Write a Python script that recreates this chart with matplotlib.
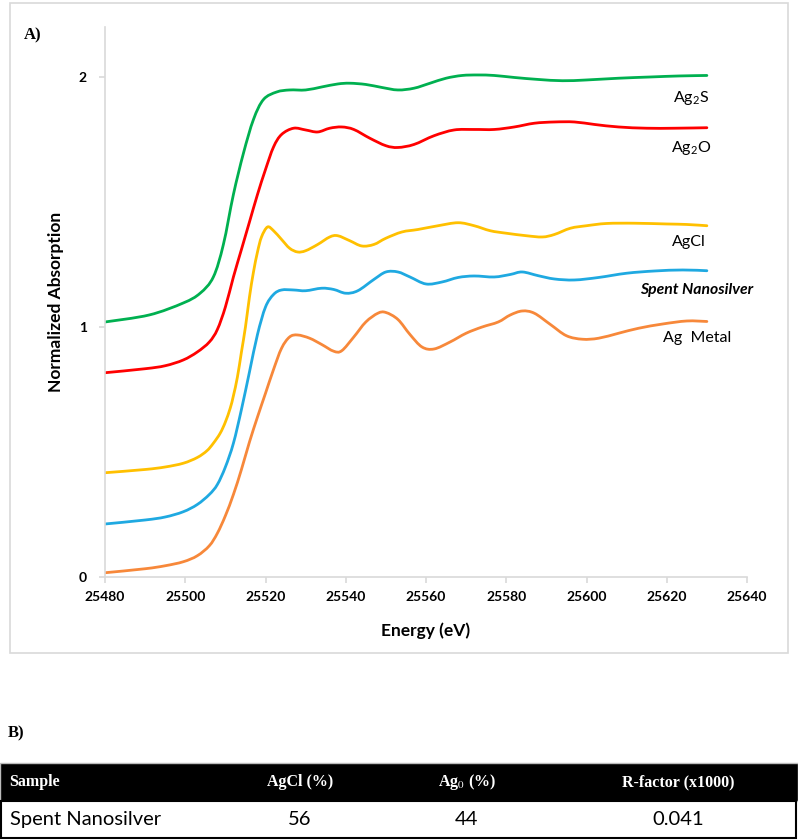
import matplotlib
matplotlib.use("Agg")
import matplotlib.pyplot as plt
from matplotlib.patches import Rectangle, PathPatch
from matplotlib.path import Path

plt.rcParams['font.family'] = ['Lato', 'DejaVu Sans']
plt.rcParams['mathtext.fontset'] = 'custom'
plt.rcParams['mathtext.rm'] = 'Lato'
plt.rcParams['mathtext.it'] = 'Lato:italic'
plt.rcParams['mathtext.bf'] = 'Lato:bold'

# XANES spectra
ag2s_e = [25480, 25491, 25499.5, 25503.7, 25507, 25509.5, 25512, 25514.5, 25517, 25519.5, 25522.8,
          25526, 25530, 25534, 25538, 25541, 25545, 25549, 25553, 25557, 25561, 25565, 25569, 25573,
          25577, 25582, 25588, 25594, 25600, 25608, 25616, 25623, 25630]
ag2s_v = [1.02, 1.048, 1.096, 1.135, 1.20, 1.33, 1.53, 1.695, 1.83, 1.91, 1.94,
          1.948, 1.948, 1.96, 1.972, 1.975, 1.97, 1.958, 1.948, 1.955, 1.975, 1.995, 2.006, 2.008,
          2.006, 1.998, 1.99, 1.985, 1.988, 1.995, 2.0, 2.004, 2.006]

ag2o_e = [25480, 25490, 25495, 25499.5, 25503, 25506, 25508, 25510, 25512, 25514, 25516, 25518, 25520,
          25522, 25524, 25527, 25530, 25533, 25536, 25539, 25542, 25546, 25550, 25553, 25557, 25562,
          25567, 25572, 25577, 25582, 25587, 25592, 25597, 25602, 25608, 25615, 25622, 25630]
ag2o_v = [0.817, 0.833, 0.845, 0.868, 0.9, 0.94, 0.99, 1.08, 1.2, 1.31, 1.42, 1.53, 1.63,
          1.72, 1.77, 1.795, 1.788, 1.78, 1.795, 1.80, 1.79, 1.755, 1.725, 1.718, 1.73, 1.765,
          1.788, 1.79, 1.79, 1.80, 1.815, 1.82, 1.82, 1.81, 1.80, 1.795, 1.795, 1.797]

agcl_e = [25480, 25490, 25495, 25499.5, 25503, 25505.4, 25507, 25508.7, 25510, 25511.2, 25512, 25513,
          25514, 25515, 25516, 25517, 25518, 25519, 25520.5, 25522, 25524, 25526, 25528, 25530, 25533,
          25536, 25538, 25541, 25544, 25547, 25550, 25554, 25558, 25563, 25568, 25572, 25576, 25580,
          25585, 25589, 25592, 25596, 25600, 25605, 25612, 25620, 25625, 25630]
agcl_v = [0.417, 0.43, 0.44, 0.455, 0.478, 0.505, 0.535, 0.575, 0.62, 0.675, 0.725, 0.80,
          0.90, 1.0, 1.12, 1.22, 1.30, 1.36, 1.40, 1.385, 1.35, 1.315, 1.30, 1.305, 1.33,
          1.36, 1.365, 1.345, 1.324, 1.33, 1.355, 1.38, 1.39, 1.405, 1.417, 1.405, 1.385, 1.375,
          1.365, 1.36, 1.37, 1.395, 1.405, 1.414, 1.415, 1.412, 1.41, 1.405]

spent_e = [25480, 25490, 25495, 25499.5, 25503, 25506, 25508, 25510, 25512, 25514, 25516, 25518,
           25520, 25522, 25524, 25527, 25530, 25534, 25537, 25540, 25543, 25547, 25550, 25553,
           25556, 25560, 25564, 25568, 25572, 25577, 25581, 25584, 25588, 25592, 25597, 25603,
           25610, 25617, 25624, 25630]
spent_v = [0.212, 0.228, 0.24, 0.261, 0.29, 0.33, 0.37, 0.44, 0.535, 0.67, 0.82, 0.97,
           1.08, 1.13, 1.148, 1.148, 1.145, 1.155, 1.15, 1.135, 1.145, 1.19, 1.22, 1.22,
           1.2, 1.172, 1.18, 1.198, 1.204, 1.20, 1.21, 1.22, 1.205, 1.192, 1.188, 1.198,
           1.215, 1.224, 1.228, 1.225]

agm_e = [25480, 25490, 25495, 25499.5, 25503, 25506, 25508, 25510, 25512, 25514, 25516, 25518,
         25520, 25522, 25524, 25526, 25528, 25531, 25534, 25537, 25539, 25542, 25545, 25548, 25550,
         25553, 25556, 25559, 25562, 25566, 25570, 25574, 25578, 25581, 25584, 25587, 25591, 25595,
         25599, 25603, 25608, 25613, 25619, 25625, 25630]
agm_v = [0.017, 0.033, 0.045, 0.061, 0.085, 0.125, 0.175, 0.245, 0.33, 0.43, 0.54, 0.64,
         0.735, 0.83, 0.915, 0.96, 0.968, 0.955, 0.93, 0.903, 0.905, 0.96, 1.02, 1.055, 1.058,
         1.03, 0.97, 0.92, 0.912, 0.94, 0.975, 1.0, 1.02, 1.048, 1.064, 1.055, 1.01, 0.965,
         0.951, 0.955, 0.975, 0.995, 1.012, 1.024, 1.022]

x_ticks = [25480, 25500, 25520, 25540, 25560, 25580, 25600, 25620, 25640]
y_ticks = [0, 1, 2]

# fit table
table_cols = ["Sample", "AgCl (%)", "Ag$_0$ (%)", "R-factor (x1000)"]
table_row = ["Spent Nanosilver", "56", "44", "0.041"]


def smooth_line(ax, xs, ys, color, lw=2.0):
    # excel-style smoothed line: catmull-rom segments drawn as cubic beziers
    n = len(xs)
    verts = [(xs[0], ys[0])]
    codes = [Path.MOVETO]
    for i in range(n - 1):
        i0 = max(i - 1, 0)
        i3 = min(i + 2, n - 1)
        c1 = (xs[i] + (xs[i + 1] - xs[i0]) / 6.0, ys[i] + (ys[i + 1] - ys[i0]) / 6.0)
        c2 = (xs[i + 1] - (xs[i3] - xs[i]) / 6.0, ys[i + 1] - (ys[i3] - ys[i]) / 6.0)
        verts += [c1, c2, (xs[i + 1], ys[i + 1])]
        codes += [Path.CURVE4, Path.CURVE4, Path.CURVE4]
    ax.add_patch(PathPatch(Path(verts, codes), facecolor='none', edgecolor=color, lw=lw,
                           joinstyle='round', capstyle='round'))


fig = plt.figure(figsize=(7.98, 8.4), dpi=100)

# panel A frame
fig.patches.append(Rectangle((0.0125, 0.2226), 0.975, 0.774, transform=fig.transFigure,
                             fill=False, edgecolor='#d9d9d9', linewidth=1.2))

ax = fig.add_axes([0.1316, 0.3131, 0.8045, 0.6548])
smooth_line(ax, ag2s_e, ag2s_v, '#00B050')
smooth_line(ax, ag2o_e, ag2o_v, '#FF0000')
smooth_line(ax, agcl_e, agcl_v, '#FFC000')
smooth_line(ax, spent_e, spent_v, '#1FA9E1')
smooth_line(ax, agm_e, agm_v, '#F7883A')

ax.set_xlim(25480, 25640)
ax.set_ylim(0, 2.2)
ax.set_xticks(x_ticks)
ax.set_yticks(y_ticks)
for s in ['top', 'right']:
    ax.spines[s].set_visible(False)
for s in ['left', 'bottom']:
    ax.spines[s].set_color('#d9d9d9')
    ax.spines[s].set_linewidth(1.2)
ax.tick_params(axis='both', colors='#d9d9d9', length=4, width=1.2, labelcolor='black')
ax.tick_params(axis='x', labelsize=10, pad=6)
ax.tick_params(axis='y', labelsize=10, pad=9)
for lab in ax.get_xticklabels() + ax.get_yticklabels():
    lab.set_fontweight('bold')

ax.set_xlabel("Energy (eV)", fontsize=12.5, fontweight='bold', labelpad=14)
ax.set_ylabel("Normalized Absorption", fontsize=12.5, fontweight='bold', labelpad=11)

# curve labels
ax.text(25626, 1.915, "Ag$_2$S", fontsize=11.5, ha='center', va='center')
ax.text(25626, 1.715, "Ag$_2$O", fontsize=11.5, ha='center', va='center')
ax.text(25625.4, 1.34, "AgCl", fontsize=11.5, ha='center', va='center')
ax.text(25627.4, 1.148, "Spent Nanosilver", fontsize=11.3, ha='center', va='center',
        fontweight='bold', style='italic')
ax.text(25627.6, 0.955, "Ag  Metal", fontsize=11.5, ha='center', va='center')

fig.text(0.03, 0.958, "A)", fontsize=12, fontweight='bold', family='Liberation Serif', va='center')
fig.text(0.01, 0.127, "B)", fontsize=12, fontweight='bold', family='Liberation Serif', va='center')

# panel B table
fig.patches.append(Rectangle((0.0, 0.0464), 1.0, 0.0453, transform=fig.transFigure,
                             facecolor='black', edgecolor='#bbbbbb', linewidth=1))
fig.patches.append(Rectangle((0.001, 0.0024), 0.997, 0.044, transform=fig.transFigure,
                             facecolor='white', edgecolor='black', linewidth=1.5))
head_x = [0.012, 0.376, 0.585, 0.85]
head_ha = ['left', 'center', 'center', 'center']
for x, t, ha in zip(head_x, table_cols, head_ha):
    fig.text(x, 0.069, t, color='white', fontsize=11.5, fontweight='bold',
             family='Liberation Serif', ha=ha, va='center',
             math_fontfamily='stix')
for x, t, ha in zip(head_x, table_row, head_ha):
    fig.text(x, 0.0245, t, color='black', fontsize=14.5, ha=ha, va='center')

fig.savefig("out.png", dpi=100)
